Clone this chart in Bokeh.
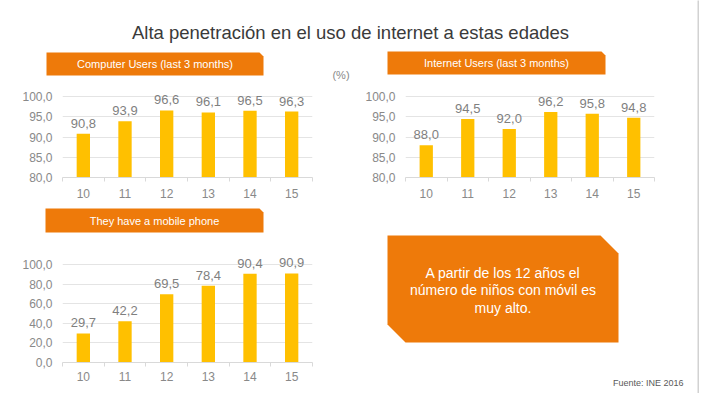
from bokeh.plotting import figure
from bokeh.models import Range1d, FixedTicker
from bokeh.layouts import column, row
from bokeh.embed import file_html
from bokeh.resources import INLINE
from bokeh.core.properties import value

# ---------------- data ----------------
title_text = "Alta penetración en el uso de internet a estas edades"
ages = ["10", "11", "12", "13", "14", "15"]
computer_users = [90.8, 93.9, 96.6, 96.1, 96.5, 96.3]
internet_users = [88.0, 94.5, 92.0, 96.2, 95.8, 94.8]
mobile_phone = [29.7, 42.2, 69.5, 78.4, 90.4, 90.9]
top_ticks = [80, 85, 90, 95, 100]
top_tick_labels = ["80,0", "85,0", "90,0", "95,0", "100,0"]
bottom_ticks = [0, 20, 40, 60, 80, 100]
bottom_tick_labels = ["0,0", "20,0", "40,0", "60,0", "80,0", "100,0"]
banner_cu = "Computer Users (last 3 months)"
banner_iu = "Internet Users (last 3 months)"
banner_mp = "They have a mobile phone"
unit_text = "(%)"
note_lines = ["A partir de los 12 años el", "número de niños con móvil es", "muy alto."]
source_text = "Fuente: INE 2016"

# ---------------- styles ----------------
FONT = "Liberation Sans"
ORANGE = "#EE7A0A"
BAR = "#FFC000"
GRAY_TXT = "#7F7F7F"
AXIS_TXT = "#898989"
GRID = "#E4E4E4"
AXIS_LINE = "#D9D9D9"


def fmt(v):
    return f"{v:.1f}".replace(".", ",")


def canvas(w, h, fill="white"):
    p = figure(width=w, height=h, x_range=Range1d(0, w), y_range=Range1d(h, 0),
               output_backend="svg", toolbar_location=None,
               x_axis_location=None, y_axis_location=None,
               min_border=0, outline_line_color=None, frame_align=False)
    p.grid.visible = False
    p.background_fill_color = fill
    p.border_fill_color = fill
    return p


def banner(p, x0, x1, y0, y1, label, cut=4):
    p.patch([x0, x1 - cut, x1, x1, x0], [y0, y0, y0 + cut, y1, y1],
            fill_color=ORANGE, line_color=None)
    p.text(x=[(x0 + x1) / 2], y=[(y0 + y1) / 2], text=[label],
           text_align="center", text_baseline="middle", text_color="white",
           text_font=value(FONT), text_font_size="11px")


def bar_chart(w, h, vals, yticks, ylabels, y_start, y_end, left, right, top, bottom, xstand=7):
    n = len(ages)
    centers = [i + 0.5 for i in range(n)]
    p = figure(width=w, height=h, x_range=Range1d(0, n), y_range=Range1d(y_start, y_end),
               output_backend="svg", toolbar_location=None,
               min_border_left=left, min_border_right=right,
               min_border_top=top, min_border_bottom=bottom,
               outline_line_color=None, frame_align=False)
    p.background_fill_color = "white"
    p.border_fill_color = "white"
    p.vbar(x=centers, top=vals, bottom=y_start, width=0.32,
           fill_color=BAR, line_color=None)
    p.text(x=centers, y=vals, text=[fmt(v) for v in vals], y_offset=-6,
           text_align="center", text_baseline="bottom", text_color=GRAY_TXT,
           text_font=value(FONT), text_font_size="13px")
    # y axis
    p.yaxis.ticker = FixedTicker(ticks=yticks)
    p.yaxis.major_label_overrides = dict(zip(yticks, ylabels))
    p.yaxis.axis_line_color = None
    p.yaxis.major_tick_line_color = None
    p.yaxis.minor_tick_line_color = None
    p.yaxis.major_tick_out = 0
    p.yaxis.major_tick_in = 0
    p.yaxis.major_label_standoff = 10
    p.yaxis.major_label_text_color = AXIS_TXT
    p.yaxis.major_label_text_font = FONT
    p.yaxis.major_label_text_font_size = "12px"
    p.ygrid.ticker = FixedTicker(ticks=yticks)
    p.ygrid.grid_line_color = GRID
    p.xgrid.visible = False
    # x axis
    p.xaxis.ticker = FixedTicker(ticks=centers, minor_ticks=list(range(n + 1)))
    p.xaxis.major_label_overrides = dict(zip(centers, ages))
    p.xaxis.axis_line_color = AXIS_LINE
    p.xaxis.major_tick_line_color = None
    p.xaxis.major_tick_out = 0
    p.xaxis.major_tick_in = 0
    p.xaxis.minor_tick_line_color = AXIS_LINE
    p.xaxis.minor_tick_out = 4
    p.xaxis.minor_tick_in = 0
    p.xaxis.major_label_standoff = xstand
    p.xaxis.major_label_text_color = AXIS_TXT
    p.xaxis.major_label_text_font = FONT
    p.xaxis.major_label_text_font_size = "12px"
    return p


LW, RW = 350, 347  # left / right column widths

# ---------------- title ----------------
title_fig = canvas(LW + RW, 44)
title_fig.text(x=[350], y=[31.5], text=[title_text], text_align="center",
               text_baseline="alphabetic", text_color="#3A3A3A",
               text_font=value(FONT), text_font_size="18.5px")

# ---------------- row 1 ----------------
ban1 = canvas(LW, 38)
banner(ban1, 46, 263, 8, 31, banner_cu)
ban1.text(x=[340.5], y=[30], text=[unit_text], text_align="center", text_baseline="middle",
          text_color=AXIS_TXT, text_font=value(FONT), text_font_size="11px")
ban2 = canvas(RW, 38)
banner(ban2, 37, 255, 7, 30, banner_iu)

ch1 = bar_chart(LW, 118, computer_users, top_ticks, top_tick_labels, 80, 103.5, 62, 38, 0, 23)
ch2 = bar_chart(RW, 118, internet_users, top_ticks, top_tick_labels, 80, 103.5, 55, RW - 304, 0, 23)

# ---------------- row 2 ----------------
ban3 = canvas(LW, 34)
banner(ban3, 45, 263, 8, 32, banner_mp)
blank = canvas(RW, 34)
ch3 = bar_chart(LW, 159, mobile_phone, bottom_ticks, bottom_tick_labels, 0, 112.2, 62, 38, 18, 31,
                xstand=5)

box = canvas(RW, 159)
bx0, bx1, by0, by1, c = 37, 268, 1, 108, 18
box.patch([bx0, bx1 - c, bx1, bx1, bx0 + c, bx0], [by0, by0, by0 + c, by1, by1, by1 - c],
          fill_color=ORANGE, line_color=None)
box.text(x=[(bx0 + bx1) / 2] * len(note_lines), y=[38, 55.5, 73], text=note_lines,
         text_align="center", text_baseline="middle", text_color="white",
         text_font=value(FONT), text_font_size="14px")
box.text(x=[333], y=[148], text=[source_text], text_align="right", text_baseline="middle",
         text_color="#595959", text_font=value(FONT), text_font_size="9px")

edge = canvas(2, 393, fill="#D2D2D2")

main = column(
    title_fig,
    row(ban1, ban2),
    row(ch1, ch2),
    row(ban3, blank),
    row(ch3, box),
)
layout = row(main, edge)

open("out.html", "w").write(file_html(layout, INLINE))
